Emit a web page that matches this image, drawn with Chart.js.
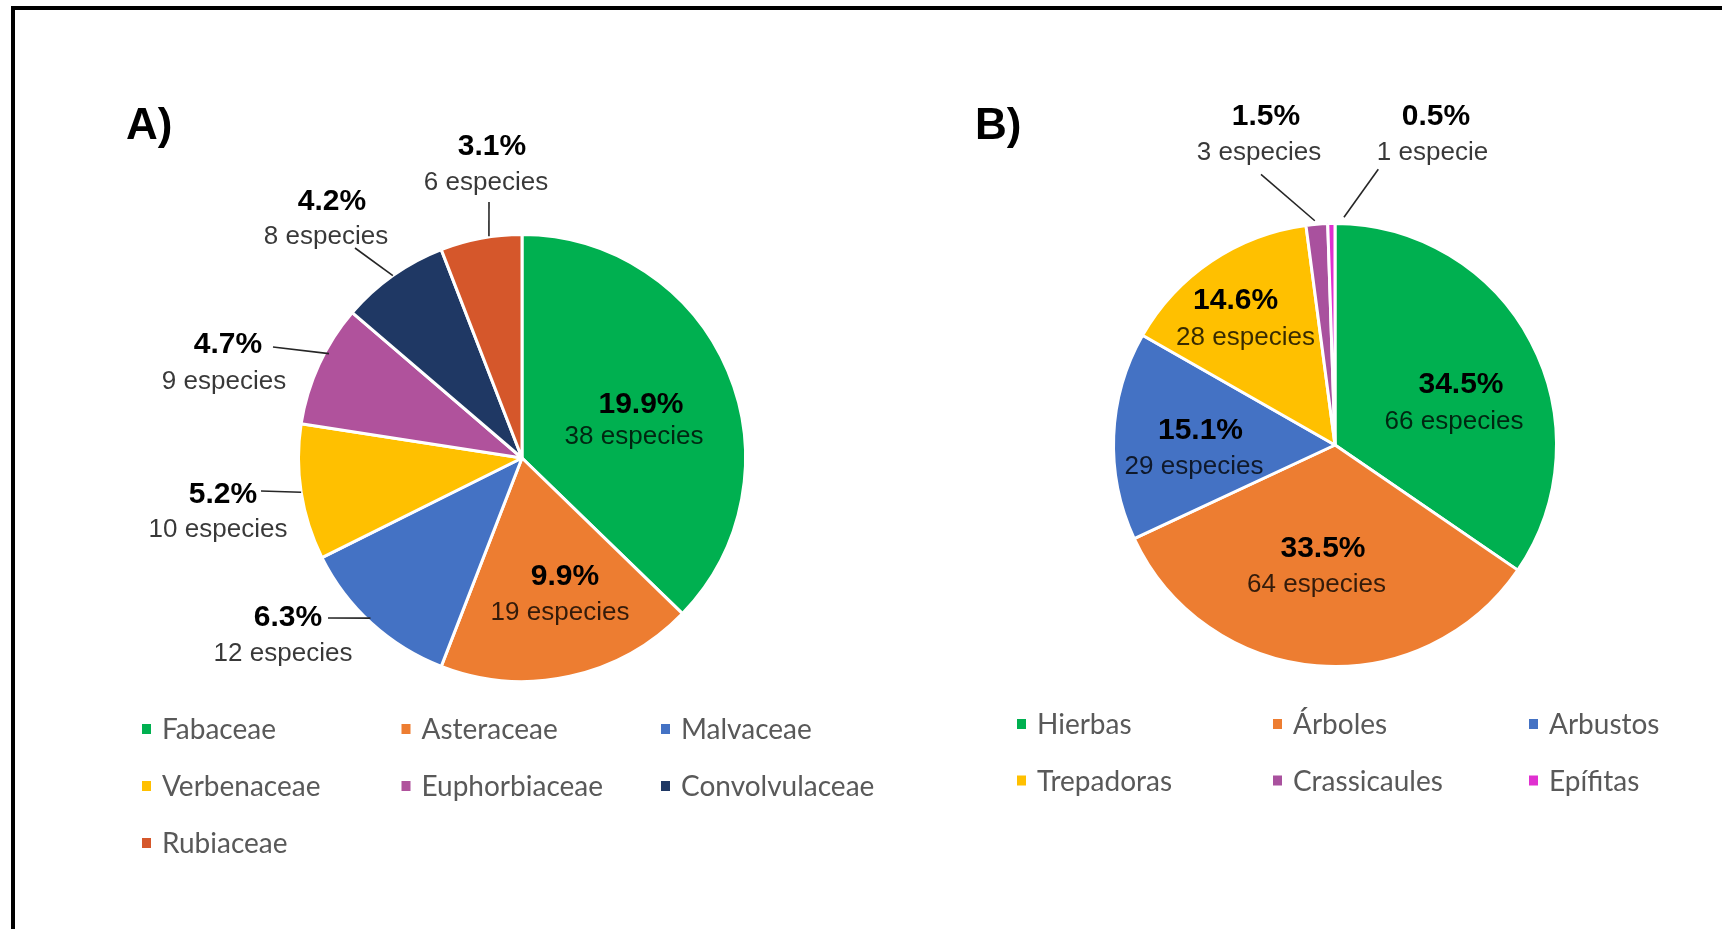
<!DOCTYPE html>
<html>
<head>
<meta charset="utf-8">
<script src="https://cdn.jsdelivr.net/npm/chart.js@4.4.1/dist/chart.umd.min.js"></script>
<style>
html,body{margin:0;padding:0;background:#fff;width:1722px;height:929px;overflow:hidden;}
#frame{position:absolute;left:11px;top:6px;width:1800px;height:1000px;border:4px solid #000;box-sizing:border-box;}
canvas{position:absolute;left:0;top:0;}
</style>
</head>
<body>
<div id="frame"></div>
<canvas id="cA" width="1722" height="929"></canvas>
<canvas id="cB" width="1722" height="929"></canvas>
<script>
// ---------- Data: A) families ----------
const familiasA = ['Fabaceae','Asteraceae','Malvaceae','Verbenaceae','Euphorbiaceae','Convolvulaceae','Rubiaceae'];
const especiesA = [38, 19, 12, 10, 9, 8, 6];
const porcentajesA = ['19.9%','9.9%','6.3%','5.2%','4.7%','4.2%','3.1%'];
const coloresA = ['#00B050','#ED7D31','#4472C4','#FFC000','#B0529C','#1F3864','#D5572B'];

// ---------- Data: B) growth forms ----------
const formasB = ['Hierbas','Árboles','Arbustos','Trepadoras','Crassicaules','Epífitas'];
const especiesB = [66, 64, 29, 28, 3, 1];
const porcentajesB = ['34.5%','33.5%','15.1%','14.6%','1.5%','0.5%'];
const coloresB = ['#00B050','#ED7D31','#4472C4','#FFC000','#A9519E','#E030D0'];

const subA = especiesA.map(n => n + (n === 1 ? ' especie' : ' especies'));
const subB = especiesB.map(n => n + (n === 1 ? ' especie' : ' especies'));

// ---------- Label layout (offsets relative to pie centre / arc mid point) ----------
const layoutA = [
  {b:[119,-56], r:[112,-22]},
  {b:[43,116],  r:[38,154]},
  {b:[-234,157], r:[-239,195], from:[-194,160], to:[-1,-5]},
  {b:[-299,34],  r:[-304,71],  from:[-261,33]},
  {b:[-294,-116], r:[-298,-77], from:[-249,-111], to:[10,-11]},
  {b:[-190,-259], r:[-196,-222], from:[-167,-210]},
  {b:[-30,-314],  r:[-36,-276],  from:[-33,-256], to:[8,-2]}
];
const layoutB = [
  {b:[126,-63], r:[119,-24.5]},
  {b:[-12,100.5], r:[-18.5,138.5]},
  {b:[-134.5,-17.5], r:[-141,21]},
  {b:[-99.4,-147], r:[-89.5,-108.5]},
  {b:[-69,-331], r:[-76,-293.3], from:[-74,-270.7], to:[-2,-3.5]},
  {b:[101,-331], r:[97.5,-293.3], from:[43.3,-275.7], to:[12.6,-6.2]}
];

const labelPlugin = {
  id: 'pieLabels',
  afterDatasetsDraw(chart, args, o) {
    const ctx = chart.ctx;
    const meta = chart.getDatasetMeta(0);
    const ds = chart.data.datasets[0];
    const cx = meta.data[0].x, cy = meta.data[0].y;
    ctx.save();
    // panel letter
    ctx.font = 'bold 44px "Liberation Sans", Arial, sans-serif';
    ctx.fillStyle = '#000';
    ctx.textAlign = 'left';
    ctx.textBaseline = 'alphabetic';
    ctx.fillText(o.panel, o.panelPos[0], o.panelPos[1]);

    meta.data.forEach((arc, i) => {
      const L = o.layout[i];
      const mid = (arc.startAngle + arc.endAngle) / 2;
      const R = arc.outerRadius;
      if (L.from) {
        const t = L.to || [0, 0];
        const ex = arc.x + Math.cos(mid) * R + t[0];
        const ey = arc.y + Math.sin(mid) * R + t[1];
        ctx.beginPath();
        ctx.moveTo(cx + L.from[0], cy + L.from[1]);
        ctx.lineTo(ex, ey);
        ctx.strokeStyle = '#262626';
        ctx.lineWidth = 1.6;
        ctx.stroke();
      }
      ctx.textAlign = 'center';
      ctx.textBaseline = 'alphabetic';
      ctx.font = 'bold 30px "Liberation Sans", Arial, sans-serif';
      ctx.fillStyle = '#000';
      ctx.fillText(o.pct[i], cx + L.b[0], cy + L.b[1] + 11);
      ctx.font = '26px "Liberation Sans", Arial, sans-serif';
      ctx.fillStyle = 'rgba(0,0,0,0.78)';
      ctx.fillText(o.sub[i], cx + L.r[0], cy + L.r[1] + 8);
    });

    // legend
    const lg = o.legend;
    chart.data.labels.forEach((lab, i) => {
      const col = i % 3, row = Math.floor(i / 3);
      const x = lg.x + col * lg.colStep;
      const y = lg.y + row * lg.rowStep;
      ctx.fillStyle = ds.backgroundColor[i];
      ctx.fillRect(x, y - 5, 9, 10);
      ctx.fillStyle = '#595959';
      ctx.font = '28px Lato, "Open Sans", sans-serif';
      ctx.textAlign = 'left';
      ctx.textBaseline = 'alphabetic';
      ctx.fillText(lab, x + 20, y + 10);
    });
    ctx.restore();
  }
};

function makePie(id, labels, values, colors, radius, padding, opts) {
  return new Chart(document.getElementById(id), {
    type: 'pie',
    data: {
      labels: labels,
      datasets: [{
        data: values,
        backgroundColor: colors,
        borderColor: '#ffffff',
        borderWidth: 3,
        radius: radius,
        hoverOffset: 0
      }]
    },
    options: {
      responsive: false,
      animation: false,
      devicePixelRatio: 1,
      events: [],
      layout: { padding: padding },
      plugins: {
        legend: { display: false },
        tooltip: { enabled: false },
        pieLabels: opts
      }
    },
    plugins: [labelPlugin]
  });
}

makePie('cA', familiasA, especiesA, coloresA, 223.5,
  {left: 0, right: 678, top: 0, bottom: 13},
  {panel: 'A)', panelPos: [126, 139], layout: layoutA, pct: porcentajesA, sub: subA,
   legend: {x: 142, y: 729, colStep: 259.5, rowStep: 57}});

makePie('cB', formasB, especiesB, coloresB, 221.5,
  {left: 948, right: 0, top: 0, bottom: 39},
  {panel: 'B)', panelPos: [975, 139], layout: layoutB, pct: porcentajesB, sub: subB,
   legend: {x: 1017, y: 724, colStep: 256, rowStep: 56.5}});
</script>
</body>
</html>
